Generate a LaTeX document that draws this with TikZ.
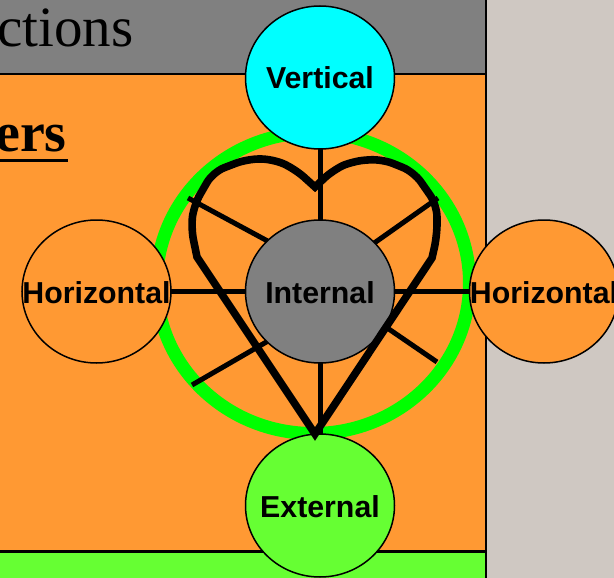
\documentclass[tikz,border=0pt]{standalone}
\usepackage{fontspec}
\setmainfont{Liberation Serif}
\newfontfamily\labelfont{Liberation Sans}
\usetikzlibrary{shapes.geometric}
\definecolor{panelgray}{HTML}{808080}
\definecolor{bandorange}{HTML}{FF9933}
\definecolor{bandgreen}{HTML}{66FF33}
\definecolor{sidebeige}{HTML}{CFC8C2}
\definecolor{ringgreen}{HTML}{00FF00}
\definecolor{topcyan}{HTML}{00FFFF}
\tikzset{
  disc/.style={ellipse,draw=black,line width=1.5pt,minimum width=149pt,minimum height=143pt,inner sep=0pt,
    font=\labelfont\bfseries\fontsize{30.3}{30}\selectfont},
  spoke/.style={draw=black,line width=5pt},
  heartline/.style={draw=black,line width=7.6pt,line join=miter,miter limit=4},
  divider/.style={draw=black,line width=2.6pt},
  heading/.style={anchor=base west,inner sep=0pt,text=black}
}
\newcommand{\cl}[1]{\makebox[0pt]{\smash{\raisebox{-11.5pt}{#1}}}}
\begin{document}
\begin{tikzpicture}[x=1pt,y=-1pt]
\useasboundingbox (0,0) rectangle (614,578);
\clip (0,0) rectangle (614,578);
% bands
\fill[sidebeige] (0,0) rectangle (614,578);
\fill[panelgray] (0,0) rectangle (486,74);
\fill[bandorange] (0,74) rectangle (486,551);
\fill[bandgreen] (0,551) rectangle (486,578);
\draw[divider] (0,74) -- (486,74);
\draw[divider] (0,551.5) -- (486,551.5);
\draw[divider] (486,0) -- (486,578);
% headings
\node[heading,font=\fontsize{57}{57}\selectfont] (ti) at (-3,47) {ctions};
\node[heading,font=\bfseries\fontsize{56}{56}\selectfont] (he) at (-5,152) {ers};
\draw[black,line width=2.6pt] (0,160.5) -- (68,160.5);
% ring
\draw[ringgreen,line width=13pt] (313,283) ellipse [x radius=156.5,y radius=150.5];
% named positions
\coordinate (ver) at (320,77.5);
\coordinate (int) at (320,291.5);
\coordinate (ext) at (320,505.5);
\coordinate (hl) at (96.5,291.5);
\coordinate (hr) at (544,291.5);
\coordinate (a1) at (188,198); \coordinate (a2) at (275,245);
\coordinate (b1) at (438,198); \coordinate (b2) at (370,246);
\coordinate (c1) at (192,385); \coordinate (c2) at (275,337);
\coordinate (d1) at (437,362); \coordinate (d2) at (380,323);
% spokes
\draw[spoke] (ver) -- (int);
\draw[spoke] (int) -- (ext);
\draw[spoke] (hl) -- (int);
\draw[spoke] (int) -- (hr);
\draw[spoke] (a1) -- (a2);
\draw[spoke] (b1) -- (b2);
\draw[spoke] (c1) -- (c2);
\draw[spoke] (d1) -- (d2);
% discs
\node[disc,fill=topcyan] (nver) at (ver) {\cl{Vertical}};
\node[disc,fill=panelgray] (nint) at (int) {\cl{Internal}};
\node[disc,fill=bandgreen] (next) at (ext) {\cl{External}};
\node[disc,fill=bandorange] (nhl) at (hl) {\cl{Horizontal}};
\node[disc,fill=bandorange] (nhr) at (hr) {\cl{Horizontal}};
% heart
\draw[heartline] (315,434) -- (197,257)
  [rounded corners=12pt] -- (191,228) -- (194,205) -- (213,172) -- (247,159) -- (273,159) -- (295,169)
  [sharp corners] -- (315,187)
  [rounded corners=12pt] -- (333,170) -- (353,161) -- (382,159) -- (414,172) -- (437,205) -- (437,236)
  [sharp corners] -- (432,258) -- cycle;
\end{tikzpicture}
\end{document}
